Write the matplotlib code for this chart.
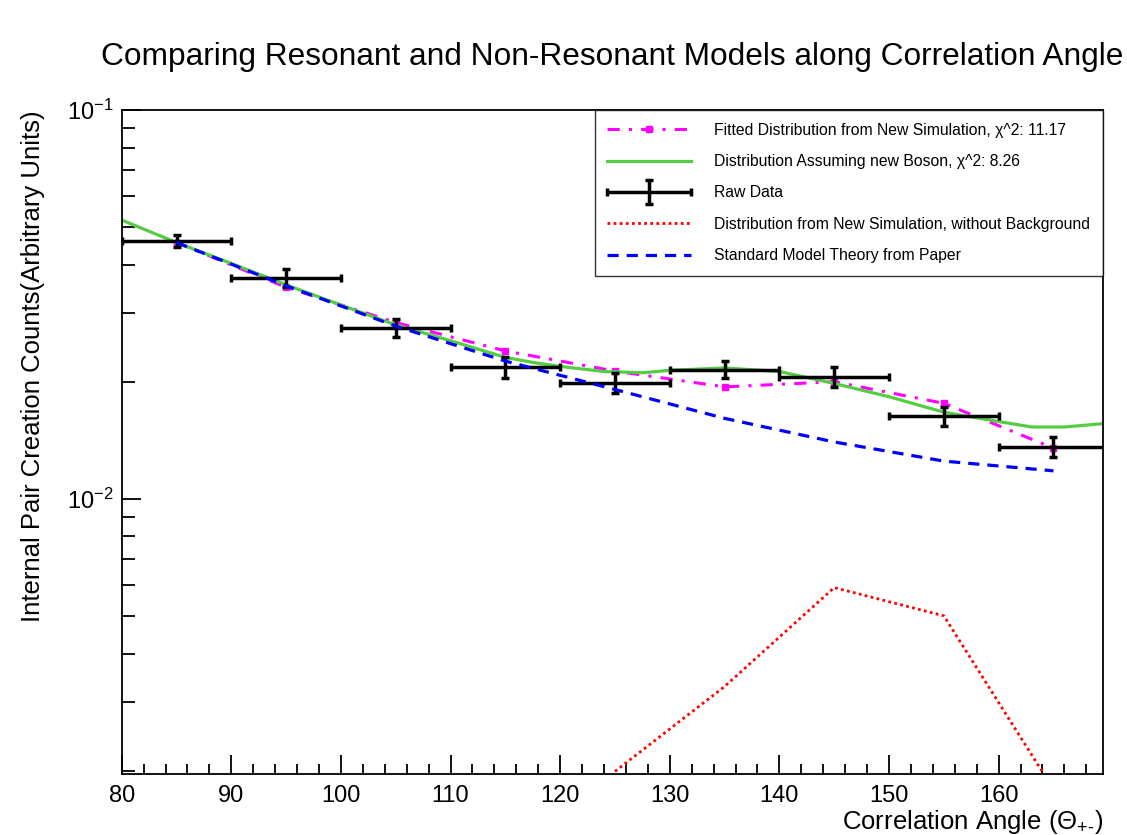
import matplotlib
matplotlib.use("Agg")
import matplotlib.pyplot as plt
from matplotlib.container import ErrorbarContainer
from matplotlib.legend_handler import HandlerErrorbar
from matplotlib.ticker import MultipleLocator, LogLocator, NullFormatter
import numpy as np

plt.rcParams['font.family'] = ['Liberation Sans', 'DejaVu Sans']
plt.rcParams['mathtext.fontset'] = 'custom'
plt.rcParams['mathtext.rm'] = 'Liberation Sans'
plt.rcParams['mathtext.it'] = 'Liberation Sans:italic'

# raw data, one point per 10 degree bin
angle = [85, 95, 105, 115, 125, 135, 145, 155, 165]
angle_err = [5, 5, 5, 5, 5, 5, 5, 5, 5]
counts = [0.0461, 0.0370, 0.0275, 0.0218, 0.0199, 0.0215, 0.0206, 0.0163, 0.0136]
counts_err = [0.0016, 0.0020, 0.0015, 0.0013, 0.0012, 0.0011, 0.0012, 0.0009, 0.0008]

# fitted distribution from new simulation
fit_counts = [0.0456, 0.0350, 0.0284, 0.0240, 0.0213, 0.0194, 0.0200, 0.0176, 0.0135]

# standard model theory
sm_counts = [0.0456, 0.0353, 0.0278, 0.0226, 0.0191, 0.0161, 0.0140, 0.0125, 0.0118]

# new simulation without background
nobg_angle = [125, 135, 145, 155, 165]
nobg_counts = [0.00199, 0.00329, 0.00591, 0.00500, 0.00179]

# distribution assuming new boson
boson_angle = [80, 85, 90, 95, 100, 105, 110, 115, 117.6, 120, 124, 127.6, 130, 135,
               140, 145, 150, 155, 160, 163, 166, 169.5]
boson_counts = [0.0521, 0.0456, 0.0403, 0.0355, 0.0315, 0.0280, 0.0255, 0.0231, 0.0224,
                0.0219, 0.02125, 0.0211, 0.0214, 0.0217, 0.02125, 0.0198, 0.0183,
                0.0167, 0.0158, 0.0153, 0.0153, 0.0156]

labels = ['Fitted Distribution from New Simulation, \u03c7^2: 11.17',
          'Distribution Assuming new Boson, \u03c7^2: 8.26',
          'Raw Data',
          'Distribution from New Simulation, without Background',
          'Standard Model Theory from Paper']

fig = plt.figure(figsize=(11.27, 8.35), dpi=100)
ax = fig.add_axes([0.108, 0.0731, 0.8705, 0.7952])

h_fit, = ax.plot(angle, fit_counts, color='#ff00ff', lw=2.2, ls=(0, (4, 3, 1, 3)),
                 marker='s', ms=5)
h_boson, = ax.plot(boson_angle, boson_counts, color='#55cc44', lw=2.3)
h_raw = ax.errorbar(angle, counts, xerr=angle_err, yerr=counts_err, fmt='none', ecolor='black',
                    elinewidth=2.5, capsize=3, capthick=2.5)
h_nobg, = ax.plot(nobg_angle, nobg_counts, color='red', lw=2.0, ls=(0, (1, 1.2)))
h_sm, = ax.plot(angle, sm_counts, color='blue', lw=2.3, ls=(0, (3.5, 2.5)))

ax.set_yscale('log')
ax.set_xlim(80, 169.5)
ax.set_ylim(0.00196, 0.1)

ax.xaxis.set_major_locator(MultipleLocator(10))
ax.xaxis.set_minor_locator(MultipleLocator(2))
ax.yaxis.set_major_locator(LogLocator(base=10))
ax.yaxis.set_minor_locator(LogLocator(base=10, subs=np.arange(2, 10)))
ax.yaxis.set_minor_formatter(NullFormatter())
ax.tick_params(axis='both', which='both', direction='in', top=False, right=False,
               labelsize=17, width=1.3, colors='black')
ax.tick_params(axis='x', which='major', length=14, pad=8)
ax.tick_params(axis='x', which='minor', length=7)
ax.tick_params(axis='y', which='major', length=14, pad=6)
ax.tick_params(axis='y', which='minor', length=9)
for s in ax.spines.values():
    s.set_linewidth(1.3)

ax.set_xlabel(r'Correlation Angle ($\Theta_{+\text{-}}$)', fontsize=18.5, loc='right', labelpad=1)
ax.set_ylabel('Internal Pair Creation Counts(Arbitrary Units)', fontsize=18.5, loc='top', labelpad=16)
fig.text(0.543, 0.932, 'Comparing Resonant and Non-Resonant Models along Correlation Angle',
         fontsize=22.8, ha='center', va='center')

handles = [h_fit, h_boson, h_raw, h_nobg, h_sm]
leg = ax.legend(handles, labels,
                handler_map={ErrorbarContainer: HandlerErrorbar(xerr_size=2.65, yerr_size=0.75)},
                loc='upper right', bbox_to_anchor=(1.0, 1.0), borderaxespad=0, fontsize=11.3,
                frameon=True, fancybox=False, edgecolor='black', handlelength=5.3,
                handletextpad=1.5, labelspacing=1.05, borderpad=0.8)
leg.get_frame().set_linewidth(1.0)

fig.savefig('out.png', dpi=100)
